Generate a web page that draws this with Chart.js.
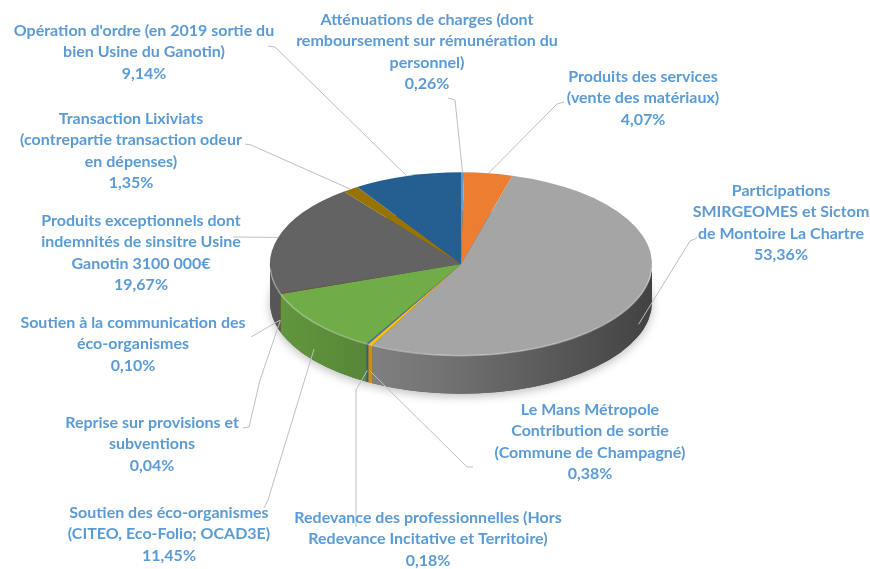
<!DOCTYPE html>
<html>
<head>
<meta charset="utf-8">
<title>Recettes de fonctionnement</title>
<script src="https://cdn.jsdelivr.net/npm/chart.js"></script>
<style>
  html, body { margin: 0; padding: 0; background: #fff; }
  #wrap { width: 870px; height: 569px; }
</style>
</head>
<body>
<div id="wrap"><canvas id="pie" width="870" height="569"></canvas></div>
<script>
// slices, clockwise from 12 o'clock
const categories = [
  ['Atténuations de charges (dont', 'remboursement sur rémunération du', 'personnel)'],
  ['Produits des services', '(vente des matériaux)'],
  ['Participations', 'SMIRGEOMES et Sictom', 'de Montoire La Chartre'],
  ['Le Mans Métropole', 'Contribution de sortie', '(Commune de Champagné)'],
  ['Redevance des professionnelles (Hors', 'Redevance Incitative et Territoire)'],
  ['Soutien des éco-organismes', '(CITEO, Eco-Folio; OCAD3E)'],
  ['Reprise sur provisions et', 'subventions'],
  ['Soutien à la communication des', 'éco-organismes'],
  ['Produits exceptionnels dont', 'indemnités de sinsitre Usine', 'Ganotin 3100 000€'],
  ['Transaction Lixiviats', '(contrepartie transaction odeur', 'en dépenses)'],
  ["Opération d'ordre (en 2019 sortie du", 'bien Usine du Ganotin)']
];
const shares = [0.26, 4.07, 53.36, 0.38, 0.18, 11.45, 0.04, 0.10, 19.67, 1.35, 9.14];

const sliceColors = ['#5B9BD5', '#ED7D31', '#A5A5A5', '#FFC000', '#4472C4', '#70AD47',
                     '#255E91', '#9E480E', '#636363', '#997300', '#255E91'];

// where each label sits (centre x, first line y) and the leader's bends near the label
const labelBoxes = [
  { x: 427, y: 20,  lead: [[455, 100], [448, 98]] },
  { x: 643, y: 77,  lead: [[557, 104], [564, 102]] },
  { x: 781, y: 191, lead: [[690, 241], [697, 238]] },
  { x: 590, y: 410, lead: [[467, 467], [473, 467]] },
  { x: 428, y: 518, lead: [[356, 390], [356, 527]] },
  { x: 169, y: 513, lead: [[268, 500], [264, 508]] },
  { x: 152, y: 423, lead: [[260, 380], [249, 427], [243, 428]] },
  { x: 133, y: 323, lead: [[251, 337]] },
  { x: 141, y: 221, lead: [[238, 237], [233, 237]] },
  { x: 131, y: 119, lead: [[251, 145], [245, 144]] },
  { x: 144, y: 31,  lead: [[275, 47], [268, 46]] }
];

const tilt = 0.48;   // vertical squash of the pie
const depth = 38;    // thickness of the side
const lineH = 21.2;

function shade(hex, f) {
  const n = parseInt(hex.slice(1), 16);
  const r = Math.round(((n >> 16) & 255) * f);
  const g = Math.round(((n >> 8) & 255) * f);
  const b = Math.round((n & 255) * f);
  return `rgb(${r},${g},${b})`;
}

const pie3d = {
  id: 'pie3d',
  beforeDatasetsDraw(chart) {
    const ctx = chart.ctx;
    const arcs = chart.getDatasetMeta(0).data;
    const p0 = arcs[0].getProps(['x', 'y', 'outerRadius'], true);
    // soft shadow under the pie
    ctx.save();
    ctx.beginPath();
    ctx.ellipse(p0.x, p0.y + depth, p0.outerRadius, p0.outerRadius * tilt, 0, 0, Math.PI * 2);
    ctx.shadowColor = 'rgba(0,0,0,0.25)';
    ctx.shadowBlur = 10;
    ctx.shadowOffsetY = 3;
    ctx.fillStyle = '#555';
    ctx.fill();
    ctx.restore();
    // side walls on the front half
    arcs.forEach((arc, i) => {
      const p = arc.getProps(['x', 'y', 'startAngle', 'endAngle', 'outerRadius'], true);
      const a0 = Math.max(p.startAngle, 0), a1 = Math.min(p.endAngle, Math.PI);
      if (a1 <= a0) return;
      const rx = p.outerRadius, ry = rx * tilt;
      const grad = ctx.createLinearGradient(p.x - rx, 0, p.x + rx, 0);
      const c = sliceColors[i];
      grad.addColorStop(0, shade(c, 0.88));
      grad.addColorStop(0.45, shade(c, 0.7));
      grad.addColorStop(1, shade(c, 0.4));
      ctx.save();
      ctx.beginPath();
      ctx.ellipse(p.x, p.y + depth, rx, ry, 0, a0, a1);
      ctx.ellipse(p.x, p.y, rx, ry, 0, a1, a0, true);
      ctx.closePath();
      ctx.fillStyle = grad;
      ctx.fill();
      ctx.restore();
    });
    ctx.save();
    ctx.translate(p0.x, p0.y);
    ctx.scale(1, tilt);
    ctx.translate(-p0.x, -p0.y);
  },
  afterDatasetsDraw(chart) {
    const ctx = chart.ctx;
    ctx.restore();
    const p = chart.getDatasetMeta(0).data[0].getProps(['x', 'y', 'outerRadius'], true);
    ctx.save();
    ctx.beginPath();
    ctx.ellipse(p.x, p.y, p.outerRadius, p.outerRadius * tilt, 0, 0.05, Math.PI - 0.05);
    ctx.strokeStyle = 'rgba(255,255,255,0.35)';
    ctx.lineWidth = 1.5;
    ctx.stroke();
    ctx.restore();
  }
};

const calloutLabels = {
  id: 'calloutLabels',
  afterDraw(chart) {
    const ctx = chart.ctx;
    const arcs = chart.getDatasetMeta(0).data;
    ctx.save();
    arcs.forEach((arc, i) => {
      const p = arc.getProps(['x', 'y', 'startAngle', 'endAngle', 'outerRadius'], true);
      const m = (p.startAngle + p.endAngle) / 2;
      let ax = p.x + p.outerRadius * Math.cos(m);
      let ay = p.y + p.outerRadius * tilt * Math.sin(m);
      if (Math.sin(m) > 0) ay += depth * 0.7;
      const box = labelBoxes[i];
      ctx.beginPath();
      ctx.moveTo(ax, ay);
      box.lead.forEach(pt => ctx.lineTo(pt[0], pt[1]));
      ctx.strokeStyle = '#BFBFBF';
      ctx.lineWidth = 1;
      ctx.stroke();

      const lines = categories[i].concat([shares[i].toFixed(2).replace('.', ',') + '%']);
      ctx.font = 'bold 16px Lato';
      ctx.fillStyle = '#5B9BD5';
      ctx.textAlign = 'center';
      ctx.textBaseline = 'middle';
      lines.forEach((t, k) => ctx.fillText(t, box.x, box.y + k * lineH));
    });
    ctx.restore();
  }
};

new Chart(document.getElementById('pie'), {
  type: 'pie',
  data: {
    labels: categories,
    datasets: [{ data: shares, backgroundColor: sliceColors, borderWidth: 0 }]
  },
  options: {
    responsive: false,
    animation: false,
    layout: { padding: { left: 270, right: 218, top: 73, bottom: 114 } },
    plugins: { legend: { display: false }, tooltip: { enabled: false } }
  },
  plugins: [pie3d, calloutLabels]
});
</script>
</body>
</html>
